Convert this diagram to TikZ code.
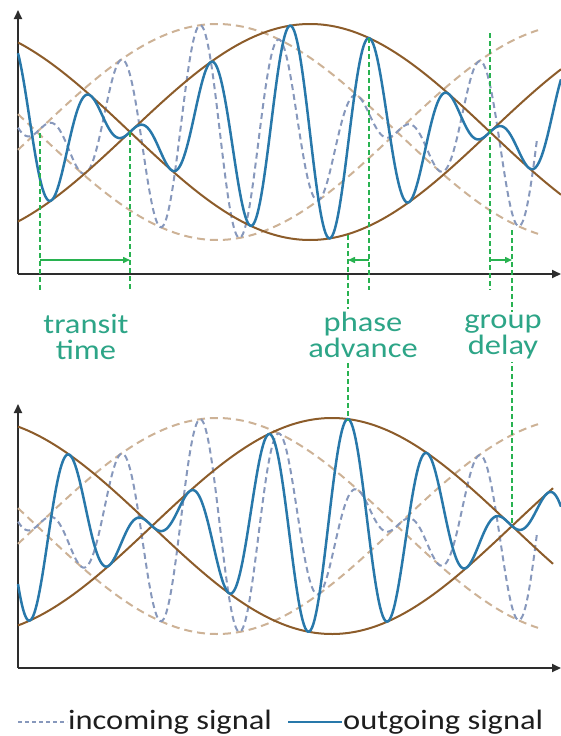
\documentclass[tikz,border=0pt]{standalone}
\usepackage{fontspec}
\setmainfont{Carlito}[FakeStretch=1.16]
\usetikzlibrary{arrows.meta}
\definecolor{outblue}{RGB}{40,120,170}
\definecolor{inblue}{RGB}{135,152,188}
\definecolor{envbrown}{RGB}{140,92,42}
\definecolor{envtan}{RGB}{205,178,150}
\definecolor{mkgreen}{RGB}{40,178,80}
\definecolor{lbl}{RGB}{45,165,135}
\definecolor{axiscol}{RGB}{45,45,45}
\definecolor{legtext}{RGB}{30,30,30}
\begin{document}
\begin{tikzpicture}[x=1pt,y=-1pt,
  axisline/.style={draw=axiscol, line width=2pt, -{Triangle[length=9pt,width=8pt]}},
  outsig/.style={draw=outblue, line width=2.5pt},
  insig/.style={draw=inblue, line width=2pt, dash pattern=on 6pt off 4pt},
  envout/.style={draw=envbrown, line width=2pt},
  envin/.style={draw=envtan, line width=2pt, dash pattern=on 8pt off 5pt},
  marker/.style={draw=mkgreen, line width=1.6pt, dash pattern=on 5pt off 3pt},
  shiftarrow/.style={draw=mkgreen, line width=1.5pt, -{Triangle[length=7pt,width=6pt]}},
  lab/.style={text=lbl, font=\fontsize{28}{26}\selectfont, align=center, fill=white, inner sep=3pt},
  legend/.style={text=legtext, font=\fontsize{28}{30}\selectfont, anchor=base west, inner sep=0pt}
]
\useasboundingbox (0,0) rectangle (561,736);
\clip (0,0) rectangle (561,736);
% ---------- top panel ----------
\coordinate (o1) at (18,274);
\coordinate (ytip1) at (18,10);
\coordinate (xtip1) at (561,274);
\draw[axisline] (o1) -- (ytip1);
\draw[axisline] (o1) -- (xtip1);
\draw[envin] plot[domain=18:538, samples=200] (\x,{132-108*cos(0.5*(\x-217))});
\draw[envin] plot[domain=18:538, samples=200] (\x,{132+108*cos(0.5*(\x-217))});
\draw[insig] plot[domain=18:537, samples=400] (\x,{132-108*cos(0.5*(\x-217))*cos(4.528*(\x-200))});
\draw[envout] plot[domain=18:561, samples=200] (\x,{132-108*cos(0.5*(\x-310))});
\draw[envout] plot[domain=18:561, samples=200] (\x,{132+108*cos(0.5*(\x-310))});
\draw[outsig] plot[domain=18:561, samples=400] (\x,{132-108*cos(0.5*(\x-310))*cos(4.528*(\x-290))});
% ---------- bottom panel ----------
\coordinate (o2) at (18,668);
\coordinate (ytip2) at (18,404);
\coordinate (xtip2) at (561,668);
\draw[axisline] (o2) -- (ytip2);
\draw[axisline] (o2) -- (xtip2);
\draw[envin] plot[domain=18:538, samples=200] (\x,{526-108*cos(0.5*(\x-217))});
\draw[envin] plot[domain=18:538, samples=200] (\x,{526+108*cos(0.5*(\x-217))});
\draw[insig] plot[domain=18:537, samples=400] (\x,{526-108*cos(0.5*(\x-217))*cos(4.528*(\x-200))});
\draw[envout] plot[domain=18:553, samples=200] (\x,{526-108*cos(0.5*(\x-332))});
\draw[envout] plot[domain=18:553, samples=200] (\x,{526+108*cos(0.5*(\x-332))});
\draw[outsig] plot[domain=18:561, samples=400] (\x,{526-108*cos(0.5*(\x-332))*cos(4.528*(\x-348))});
% ---------- markers ----------
\coordinate (m1a) at (40,133);  \coordinate (m1b) at (40,290);
\coordinate (m2a) at (130,132); \coordinate (m2b) at (130,290);
\coordinate (m3a) at (348,235); \coordinate (m3b) at (348,421);
\coordinate (m4a) at (369,38);  \coordinate (m4b) at (369,290);
\coordinate (m5a) at (490,33);  \coordinate (m5b) at (490,290);
\coordinate (m6a) at (512,230); \coordinate (m6b) at (512,525);
\draw[marker] (m1a) -- (m1b);
\draw[marker] (m2a) -- (m2b);
\draw[marker] (m3a) -- (m3b);
\draw[marker] (m4a) -- (m4b);
\draw[marker] (m5a) -- (m5b);
\draw[marker] (m6a) -- (m6b);
\coordinate (a1s) at (40,260);  \coordinate (a1e) at (130,260);
\coordinate (a2s) at (369,260); \coordinate (a2e) at (348,260);
\coordinate (a3s) at (490,260); \coordinate (a3e) at (512,260);
\draw[shiftarrow] (a1s) -- (a1e);
\draw[shiftarrow] (a2s) -- (a2e);
\draw[shiftarrow] (a3s) -- (a3e);
\node[lab] (transit) at (86,337) {transit\\time};
\node[lab] (phase) at (363,335) {phase\\advance};
\node[lab] (group) at (503,337) {group\\delay};
% ---------- legend ----------
\coordinate (li1) at (18,722); \coordinate (li2) at (67,722);
\draw[draw=inblue, line width=1.5pt, dash pattern=on 4pt off 3pt] (li1) -- (li2);
\node[legend] (inc) at (68,729) {incoming signal};
\coordinate (lo1) at (288,722); \coordinate (lo2) at (342,722);
\draw[draw=outblue, line width=2.5pt] (lo1) -- (lo2);
\node[legend] (outg) at (343,729) {outgoing signal};
\end{tikzpicture}
\end{document}
